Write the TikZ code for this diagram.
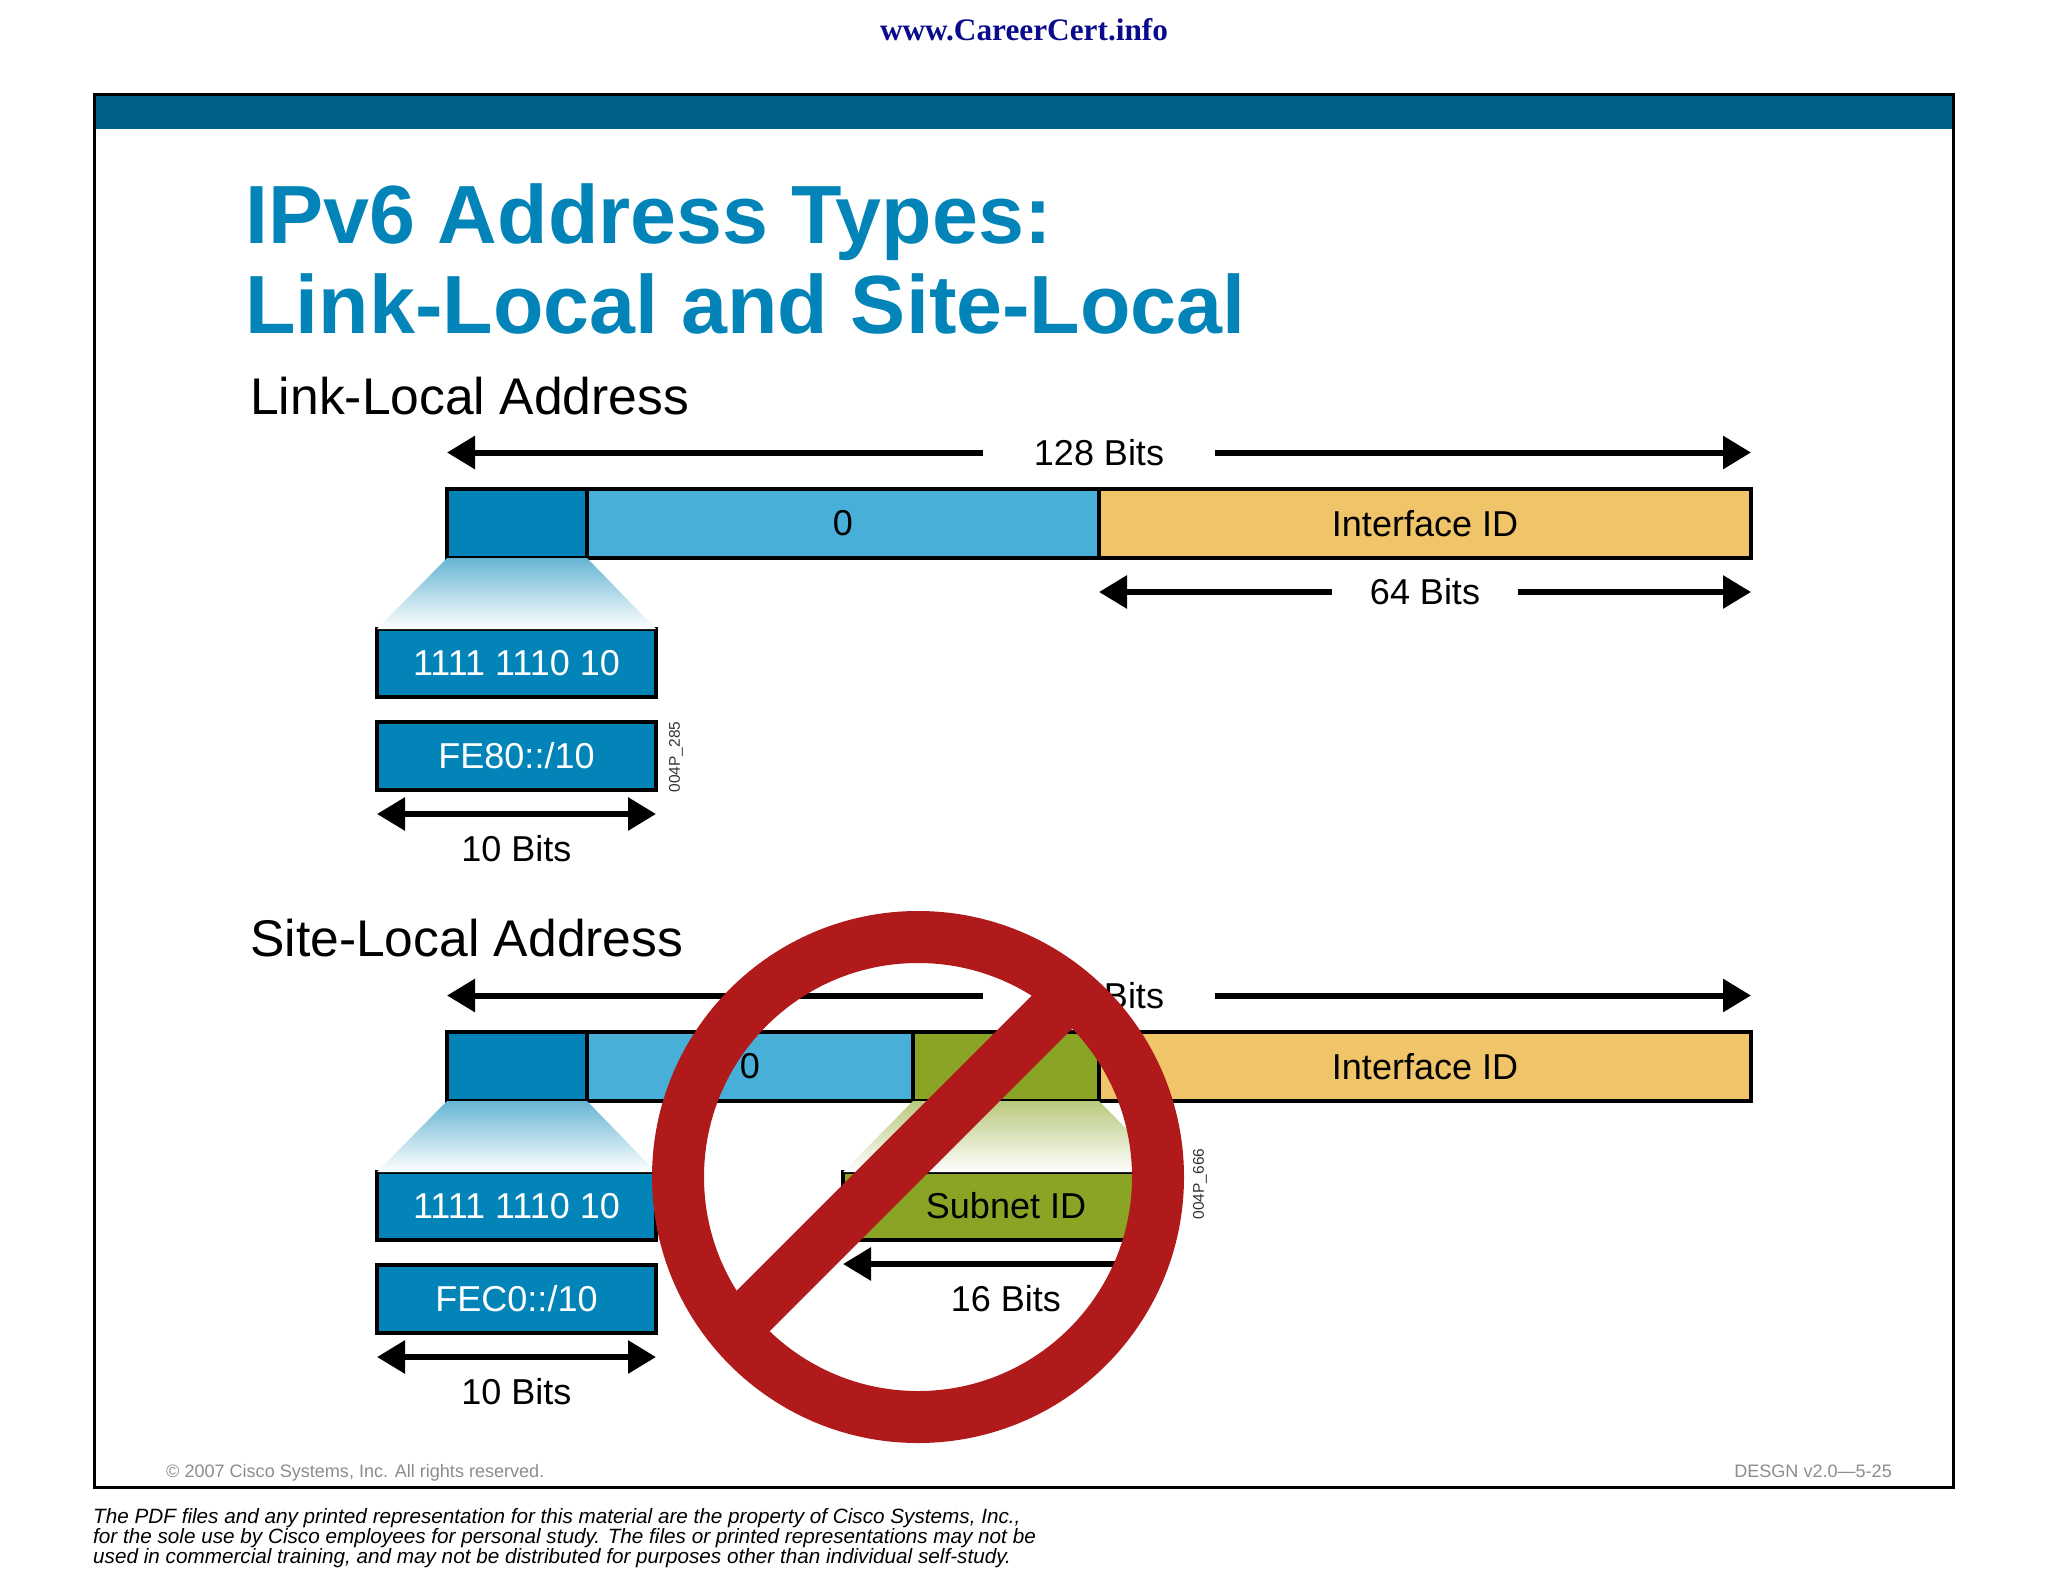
\documentclass[tikz,border=0pt]{standalone}
\usepackage{fontspec}
\usetikzlibrary{arrows.meta,positioning}
\setmainfont{Liberation Sans}
\newfontfamily\urlfont{Liberation Serif}
\definecolor{deepblue}{HTML}{0284B8}
\definecolor{paleblue}{HTML}{47AFD8}
\definecolor{sand}{HTML}{F0C468}
\definecolor{olive}{HTML}{8AA526}
\definecolor{header}{HTML}{015F88}
\definecolor{stopred}{HTML}{B11A1B}
\definecolor{navy}{HTML}{0A0A8C}
\tikzset{
    seg/.style={draw=black, line width=3.5pt, inner sep=0pt, outer sep=0pt, minimum height=69pt, text=black},
    lbl/.style={inner sep=0pt, outer sep=0pt, font=\fontsize{36}{40}\selectfont},
    code/.style={seg, fill=deepblue, text=white, minimum width=279pt, minimum height=68pt, lbl},
    tag/.style={inner sep=0pt, rotate=90, text=black!80, font=\fontsize{15.5}{17}\selectfont},
    head/.style={font=\fontsize{51.6}{56}\selectfont, inner sep=0pt, anchor=base west},
}
\begin{document}
\begin{tikzpicture}[x=1pt, y=-1pt, >={Triangle[length=28pt,width=32pt]}]
    \useasboundingbox (0, 0) rectangle (2048, 1582);
    \node[inner sep=0pt, text=navy, font=\urlfont\bfseries\fontsize{31.3}{34}\selectfont] (url) at (1024, 30) {www.CareerCert.info};
    % slide frame
    \fill[header] (94, 94) rectangle (1953, 129);
    \draw[line width=3pt] (94, 94) rectangle (1953, 1487);
    \node[inner sep=0pt, anchor=base west, align=left, text=deepblue, font=\bfseries\fontsize{82.6}{90}\selectfont] (title) at (245, 333) {IPv6 Address Types:\\Link-Local and Site-Local};
    \node[head] (linkhead) at (250, 414) {Link-Local Address};
    \node[head] (sitehead) at (250, 956) {Site-Local Address};
    % both address rows
    \foreach \r/\dy/\addr/\zw in {a/0/FE80/512, b/543/FEC0/326} {
        \node[seg, fill=deepblue, minimum width=140pt, anchor=north west] (\r-head) at (447, 489 + \dy) {};
        \node[seg, fill=paleblue, minimum width=\zw pt, right=0pt of \r-head, lbl] (\r-zero) {0};
        \node[seg, fill=sand, minimum width=652pt, lbl] (\r-iface) at (1425, 523.5 + \dy) {Interface ID};
        \node[code] (\r-bin) at (516.5, 663 + \dy) {1111 1110 10};
        \node[code] (\r-addr) at (516.5, 756 + \dy) {\addr::/10};
        \shade[top color=deepblue!60, bottom color=white] (\r-head.south west) -- (\r-head.south east) -- (\r-bin.north east) -- (\r-bin.north west) -- cycle;
        \node[lbl, minimum width=232pt] (\r-bits) at (1099, 452.5 + \dy) {128 Bits};
        \draw[->, line width=6pt] (\r-bits.west) -- (\r-bits.west -| \r-head.west);
        \draw[->, line width=6pt] (\r-bits.east) -- (\r-bits.east -| \r-iface.east);
        \draw[<->, line width=6pt] ([yshift=-24pt]\r-addr.south west) -- ([yshift=-24pt]\r-addr.south east);
        \node[lbl] (\r-ten) at (516.5, 849 + \dy) {10 Bits};
    };
    \node[lbl, minimum width=186pt] (a-low) at (1425, 592) {64 Bits};
    \draw[->, line width=6pt] (a-low.west) -- (a-low.west -| a-iface.west);
    \draw[->, line width=6pt] (a-low.east) -- (a-low.east -| a-iface.east);
    \node[tag] (a-tag) at (676, 757) {004P\_285};
    % subnet part of the site-local row
    \node[seg, fill=olive, minimum width=186pt, right=0pt of b-zero] (b-net) {};
    \node[seg, fill=olive, minimum width=326pt, minimum height=68pt, lbl] (b-sub) at (1006, 1206) {Subnet ID};
    \shade[top color=olive!60, bottom color=white] (b-net.south west) -- (b-net.south east) -- (b-sub.north east) -- (b-sub.north west) -- cycle;
    \draw[<->, line width=6pt] ([yshift=-24pt]b-sub.south west) -- ([yshift=-24pt]b-sub.south east);
    \node[lbl] (b-six) at (1006, 1299) {16 Bits};
    \node[tag] (b-tag) at (1200, 1184) {004P\_666};
    % prohibition sign
    \node[circle, draw=stopred, line width=52pt, inner sep=0pt, minimum size=480pt] (stop) at (918, 1177) {};
    \coordinate (slashup) at (1073, 991);
    \coordinate (slashlow) at (745, 1319);
    \draw[stopred, line width=52pt] (slashup) -- (slashlow);
    % small print
    \node[inner sep=0pt, anchor=base west, text=black!45, font=\fontsize{18.05}{20}\selectfont] (copy) at (166, 1477) {\textcopyright{} 2007 Cisco Systems, Inc. All rights reserved.};
    \node[inner sep=0pt, anchor=base east, text=black!45, font=\fontsize{18.05}{20}\selectfont] (course) at (1892, 1477) {DESGN v2.0---5-25};
    \node[inner sep=0pt, anchor=base west, align=left, font=\itshape\fontsize{20.7}{20}\selectfont] (note) at (93, 1563) {The PDF files and any printed representation for this material are the property of Cisco Systems, Inc.,\\for the sole use by Cisco employees for personal study. The files or printed representations may not be\\used in commercial training, and may not be distributed for purposes other than individual self-study.};
\end{tikzpicture}
\end{document}
